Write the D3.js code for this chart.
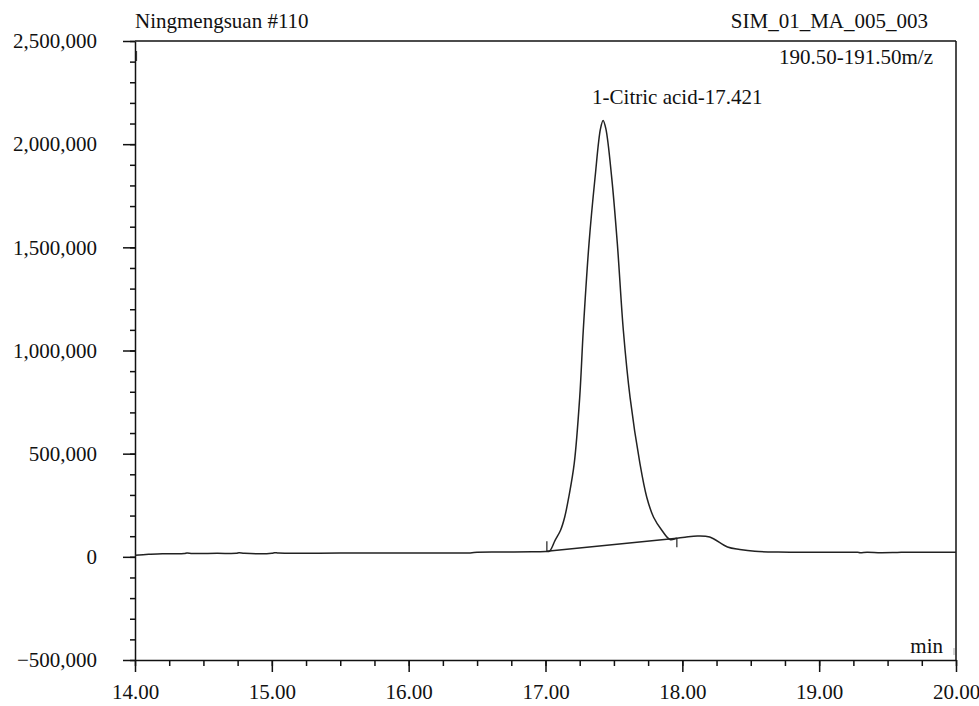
<!DOCTYPE html>
<html>
<head>
<meta charset="utf-8">
<script src="https://cdn.jsdelivr.net/npm/d3@7"></script>
<style>
    body { margin: 0; background: #fff; }
</style>
</head>
<body>
<div id="chart"></div>
<script>
// Chromatogram: retention time (min) vs intensity.
var times = [14.00, 14.10, 14.20, 14.36, 14.38, 14.42, 14.60, 14.74, 14.76, 14.80,
    15.00, 15.02, 15.05, 15.50, 16.00, 16.45, 16.50, 16.70, 16.90, 17.00,
    17.03, 17.07, 17.11, 17.14, 17.17, 17.21, 17.25, 17.276, 17.318, 17.362,
    17.402, 17.421, 17.441, 17.484, 17.525, 17.569, 17.618, 17.69,
    17.74, 17.79, 17.85, 17.91, 17.96, 18.02, 18.11, 18.20, 18.33, 18.42,
    18.53, 18.70, 19.00, 19.28, 19.30, 19.35, 19.45, 19.55, 19.60, 20.00];
var intensities = [8000, 12000, 15000, 16000, 19000, 16000, 17000, 17000, 20000, 17000,
    17000, 20000, 18000, 18000, 19000, 19000, 22000, 23000, 25000, 26000,
    28000, 80000, 129000, 192000, 289000, 453000, 773000, 1097000, 1518000, 1837000,
    2075000, 2115000, 2075000, 1837000, 1518000, 1097000, 773000, 453000,
    289000, 192000, 129000, 84000, 90000, 95000, 101000, 96000, 48000, 36000,
    27000, 23000, 22000, 22000, 20000, 22000, 20000, 21000, 22000, 22000];

// integration baseline of the peak: [start, end]
var baseTimes = [17.01, 17.96];
var baseValues = [27000, 90000];

var peakName = '1-Citric acid';
var peakTime = 17.421;

var xTicks = [14, 15, 16, 17, 18, 19, 20];
var yTicks = [-500000, 0, 500000, 1000000, 1500000, 2000000, 2500000];

var titleLeft = 'Ningmengsuan #110';
var titleRight = 'SIM_01_MA_005_003';
var massRange = '190.50-191.50m/z';
var xUnit = 'min';

(function () {
    var width = 979, height = 706;
    var left = 135, right = 956, top = 41, bottom = 660;
    var font = '"Liberation Serif", "Times New Roman", "DejaVu Serif", serif';

    var svg = d3.select('#chart').append('svg')
        .attr('width', width)
        .attr('height', height);

    var x = d3.scaleLinear().domain([14, 20]).range([left, right]);
    var y = d3.scaleLinear().domain([-500000, 2500000]).range([bottom, top]);

    // minor ticks first, major on top
    svg.append('g')
        .attr('transform', 'translate(' + left + ',0)')
        .call(d3.axisLeft(y).tickValues(d3.range(-500000, 2500001, 100000)).tickSize(5).tickFormat(''))
        .call(function (g) { g.select('.domain').remove(); });

    svg.append('g')
        .attr('transform', 'translate(0,' + bottom + ')')
        .call(d3.axisBottom(x).tickValues(d3.range(14, 20.001, 0.25)).tickSize(6).tickFormat(''))
        .call(function (g) { g.select('.domain').remove(); });

    svg.append('g')
        .attr('transform', 'translate(' + left + ',0)')
        .call(d3.axisLeft(y).tickValues(yTicks).tickSize(12).tickSizeOuter(0)
            .tickPadding(26).tickFormat(d3.format(',')));

    var xAxis = svg.append('g')
        .attr('transform', 'translate(0,' + bottom + ')')
        .call(d3.axisBottom(x).tickValues(xTicks).tickSize(12).tickSizeOuter(0)
            .tickFormat(d3.format('.2f')));
    xAxis.selectAll('text').attr('y', 39).attr('dy', 0);

    svg.selectAll('.tick line, .domain')
        .attr('stroke', '#111')
        .attr('stroke-width', 1.5);

    // top and right frame lines
    svg.append('line')
        .attr('x1', left).attr('x2', right)
        .attr('y1', top).attr('y2', top)
        .attr('stroke', '#111').attr('stroke-width', 1.5);
    svg.append('line')
        .attr('x1', right).attr('x2', right)
        .attr('y1', top).attr('y2', bottom)
        .attr('stroke', '#111').attr('stroke-width', 1.5);

    // the trace
    var data = times.map(function (t, i) { return [t, intensities[i]]; });
    var line = d3.line()
        .x(function (d) { return x(d[0]); })
        .y(function (d) { return y(d[1]); })
        .curve(d3.curveCatmullRom.alpha(0.5));

    svg.append('path')
        .datum(data)
        .attr('d', line)
        .attr('fill', 'none')
        .attr('stroke', '#222')
        .attr('stroke-width', 1.5);

    // peak integration baseline and its start/end markers
    svg.append('line')
        .attr('x1', x(baseTimes[0])).attr('y1', y(baseValues[0]))
        .attr('x2', x(baseTimes[1])).attr('y2', y(baseValues[1]))
        .attr('stroke', '#222').attr('stroke-width', 1.5);
    svg.append('line')
        .attr('x1', x(baseTimes[0])).attr('x2', x(baseTimes[0]))
        .attr('y1', y(baseValues[0])).attr('y2', y(baseValues[0]) - 10)
        .attr('stroke', '#222').attr('stroke-width', 1.2);
    svg.append('line')
        .attr('x1', x(baseTimes[1])).attr('x2', x(baseTimes[1]))
        .attr('y1', y(baseValues[1])).attr('y2', y(baseValues[1]) + 9)
        .attr('stroke', '#222').attr('stroke-width', 1.2);

    // stray marks seen on the original
    svg.append('line')
        .attr('x1', left + 1.5).attr('x2', left + 1.5)
        .attr('y1', top + 10).attr('y2', top + 20)
        .attr('stroke', '#333').attr('stroke-width', 1.2);
    svg.append('line')
        .attr('x1', right - 2).attr('x2', right - 2)
        .attr('y1', bottom - 12).attr('y2', bottom - 5)
        .attr('stroke', '#aaa').attr('stroke-width', 1);

    // labels
    svg.append('text').attr('x', left).attr('y', 28).text(titleLeft);
    svg.append('text').attr('x', 928).attr('y', 28).attr('text-anchor', 'end').text(titleRight);
    svg.append('text').attr('x', 933).attr('y', 64).attr('text-anchor', 'end').text(massRange);
    svg.append('text').attr('x', 943).attr('y', 653).attr('text-anchor', 'end').text(xUnit);
    svg.append('text')
        .attr('x', x(peakTime) - 11)
        .attr('y', 104)
        .text(peakName + '-' + d3.format('.3f')(peakTime));

    svg.selectAll('text')
        .attr('fill', '#111')
        .style('font-family', font)
        .style('font-size', '21px');
})();
</script>
</body>
</html>
